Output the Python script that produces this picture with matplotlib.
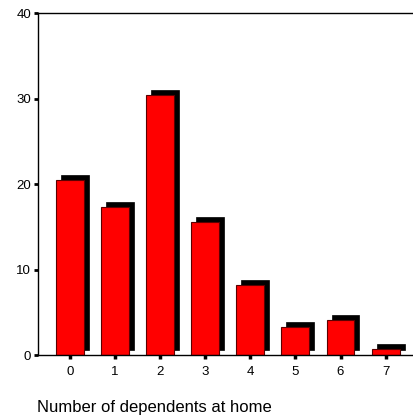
import numpy as np
import matplotlib
matplotlib.use('Agg')
import matplotlib.pyplot as plt
import matplotlib.transforms as mtransforms

plt.rcParams['font.family'] = ['Liberation Sans', 'DejaVu Sans']

# data
categories = ['0', '1', '2', '3', '4', '5', '6', '7']
counts = [20.5, 17.3, 30.4, 15.6, 8.2, 3.3, 4.05, 0.75]

fig = plt.figure(figsize=(4.14, 4.19), dpi=100)
ax = fig.add_axes([38/414, 64/419, 376/414, 342/419])

x = np.arange(len(categories))
w = 0.62

# shadow: shifted 5px right and 5px up
shift = mtransforms.ScaledTranslation(5/100, 5/100, fig.dpi_scale_trans)
ax.bar(x, counts, width=w, color='black', edgecolor='black', linewidth=0.5,
       transform=ax.transData + shift, zorder=2)
ax.bar(x, counts, width=w, color='#ff0000', edgecolor='#5a0000', linewidth=0.8, zorder=3)

ax.set_xlim(-0.71, 7.63)
ax.set_ylim(0, 40)
ax.set_yticks([0, 10, 20, 30, 40])
ax.set_xticks(x)
ax.set_xticklabels(categories)

ax.spines['right'].set_visible(False)
for s in ['left', 'top', 'bottom']:
    ax.spines[s].set_linewidth(1.0)
    ax.spines[s].set_color('black')
ax.spines['bottom'].set_zorder(4)

ax.tick_params(axis='y', direction='out', length=3, width=2, pad=2, labelsize=9.5)
ax.tick_params(axis='x', direction='out', length=3, width=2.5, pad=5, labelsize=9.5)

fig.text(37/414, 7/419, 'Number of dependents at home', fontsize=12,
         ha='left', va='baseline')

fig.savefig('out.png', dpi=100)
